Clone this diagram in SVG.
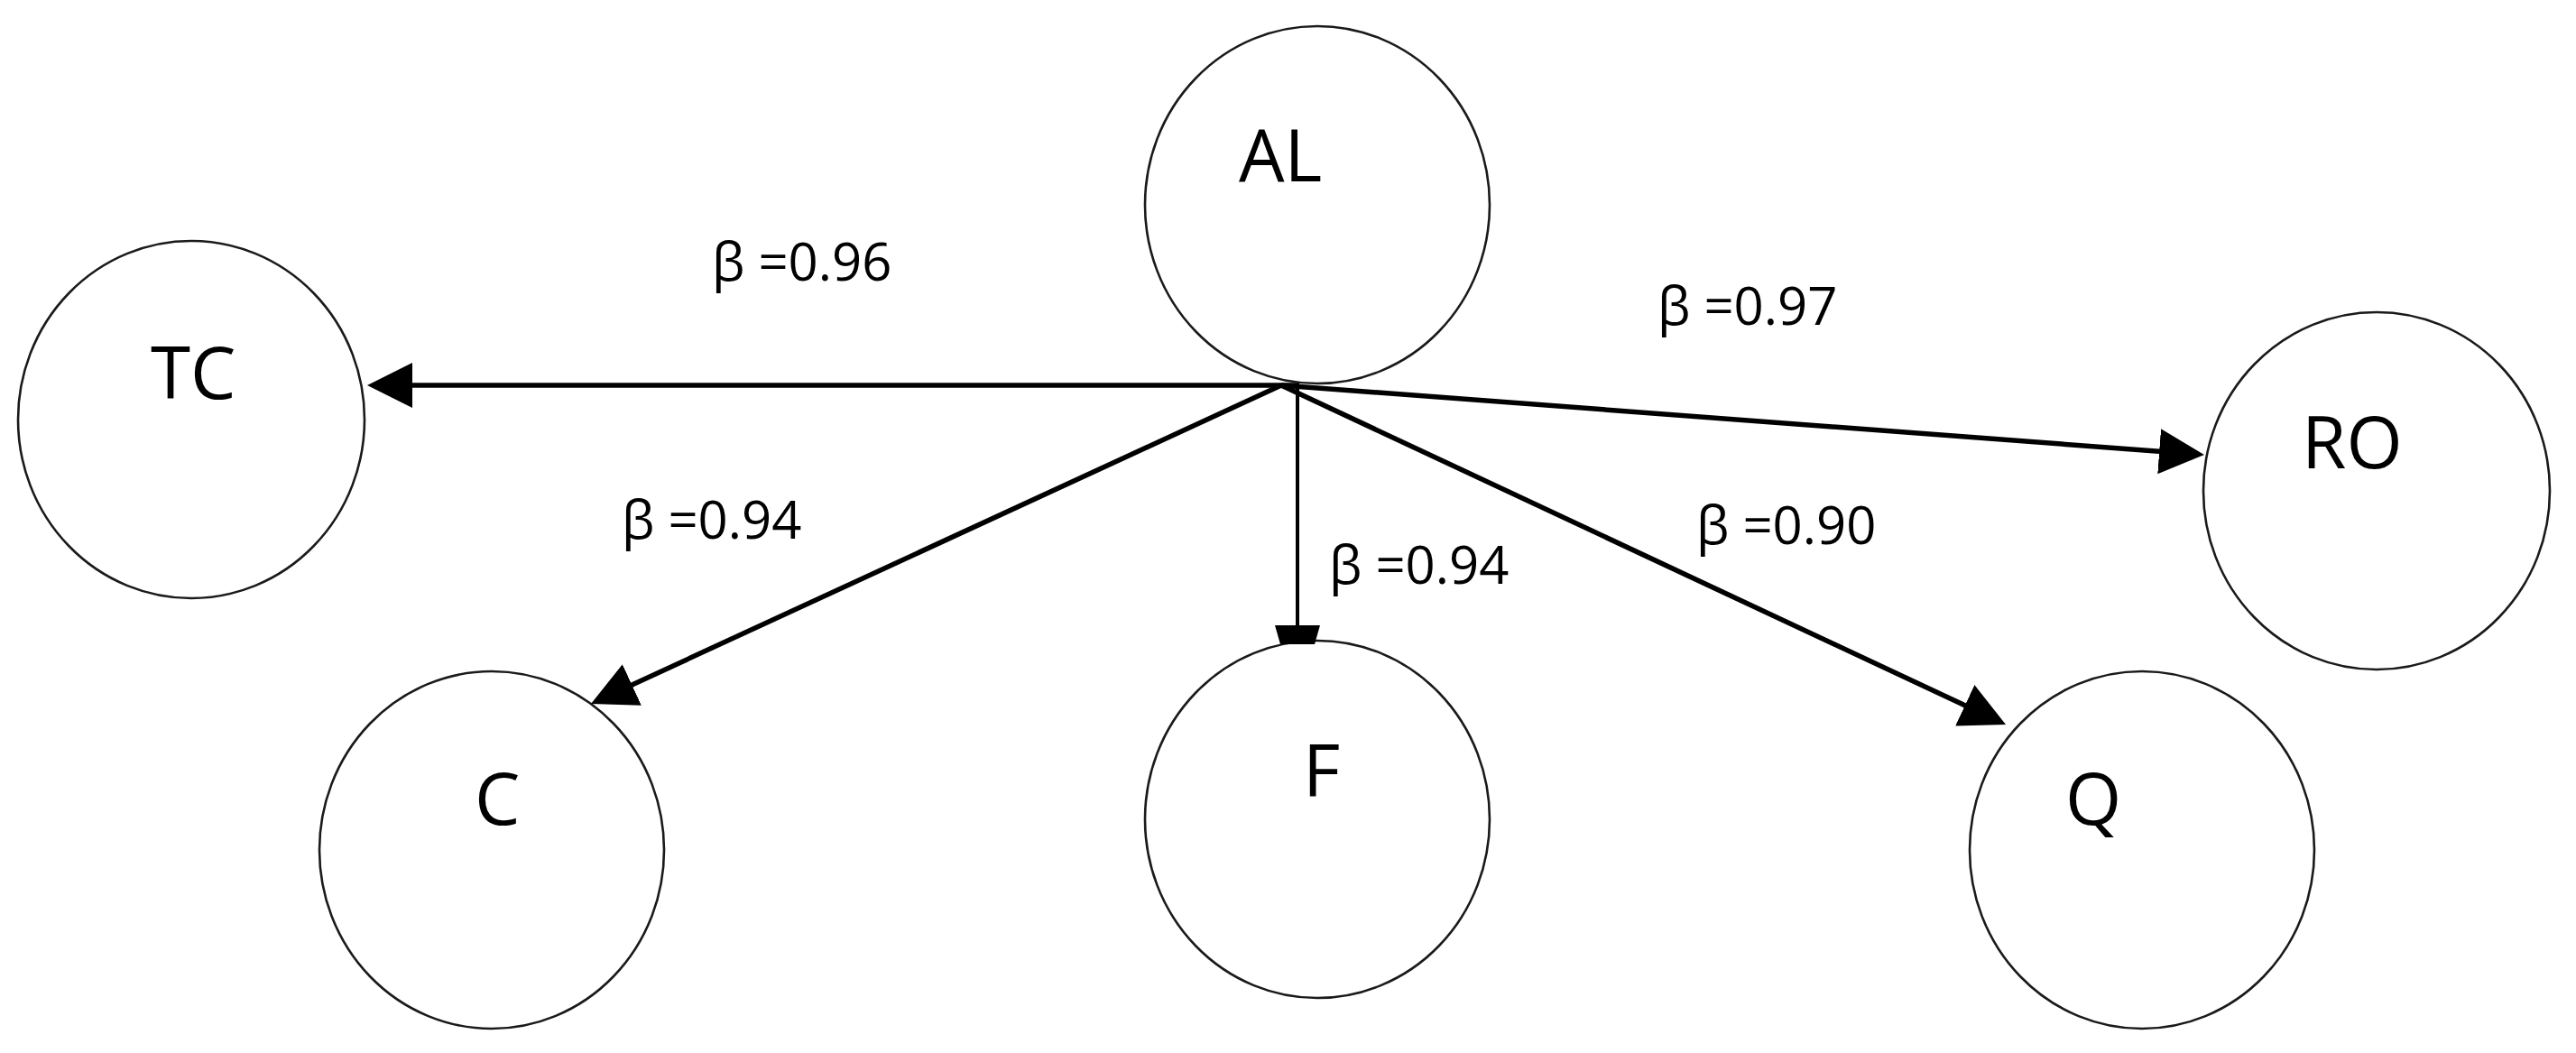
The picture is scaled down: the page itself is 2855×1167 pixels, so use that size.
<svg xmlns="http://www.w3.org/2000/svg" width="2855" height="1167" viewBox="0 0 2855 1167">
  <style>
    .node { fill: #ffffff; stroke: #1a1a1a; stroke-width: 2.6; }
    .nlabel { font-family: "Open Sans", "Liberation Sans", sans-serif; font-size: 80px; fill: #000000; }
    .elabel { font-family: "Open Sans", "Liberation Sans", sans-serif; font-size: 58px; fill: #000000; }
    .edge { stroke: #000000; stroke-width: 5.5; fill: none; }
    .edge-thin { stroke: #000000; stroke-width: 4; fill: none; }
  </style>
  <defs>
    <marker id="arrow" viewBox="0 0 50 50" markerWidth="50" markerHeight="50" refX="10" refY="25" orient="auto" markerUnits="userSpaceOnUse">
      <path d="M0,0 L50,25 L0,50 Z" fill="#000000"/>
    </marker>
  </defs>
  <rect x="0" y="0" width="2855" height="1167" fill="#ffffff"/>

  <g id="node-AL">
    <ellipse class="node" cx="1460" cy="227" rx="191" ry="198"/>
    <text class="nlabel" x="1373" y="201">AL</text>
  </g>
  <g id="node-TC">
    <ellipse class="node" cx="212" cy="465" rx="192" ry="198"/>
    <text class="nlabel" x="167" y="442">TC</text>
  </g>
  <g id="node-RO">
    <ellipse class="node" cx="2634" cy="544" rx="192" ry="198"/>
    <text class="nlabel" x="2551" y="519">RO</text>
  </g>
  <g id="node-C">
    <ellipse class="node" cx="545" cy="942" rx="191" ry="198"/>
    <text class="nlabel" x="526" y="914">C</text>
  </g>
  <g id="node-F">
    <ellipse class="node" cx="1460" cy="908" rx="191" ry="198"/>
    <text class="nlabel" x="1444" y="883">F</text>
  </g>
  <g id="node-Q">
    <ellipse class="node" cx="2374" cy="942" rx="191" ry="198"/>
    <text class="nlabel" x="2289" y="914">Q</text>
  </g>

  <g id="connectors">
    <line class="edge" x1="1440" y1="427" x2="447" y2="427" marker-end="url(#arrow)"/>
    <line class="edge" x1="1420" y1="427" x2="2403.1" y2="501" marker-end="url(#arrow)"/>
    <line class="edge" x1="1420" y1="427" x2="691.3" y2="763.2" marker-end="url(#arrow)"/>
    <line class="edge" x1="1420" y1="427" x2="2186.8" y2="786" marker-end="url(#arrow)"/>
    <line class="edge-thin" x1="1438" y1="427" x2="1438" y2="695"/>
    <polygon points="1413,693 1463,693 1457,714 1419,714" fill="#000000"/>
  </g>

  <g id="edge-labels">
    <text class="elabel" x="789" y="311">β =0.96</text>
    <text class="elabel" x="1837" y="360">β =0.97</text>
    <text class="elabel" x="689" y="597">β =0.94</text>
    <text class="elabel" x="1473" y="647">β =0.94</text>
    <text class="elabel" x="1880" y="603">β =0.90</text>
  </g>
</svg>
